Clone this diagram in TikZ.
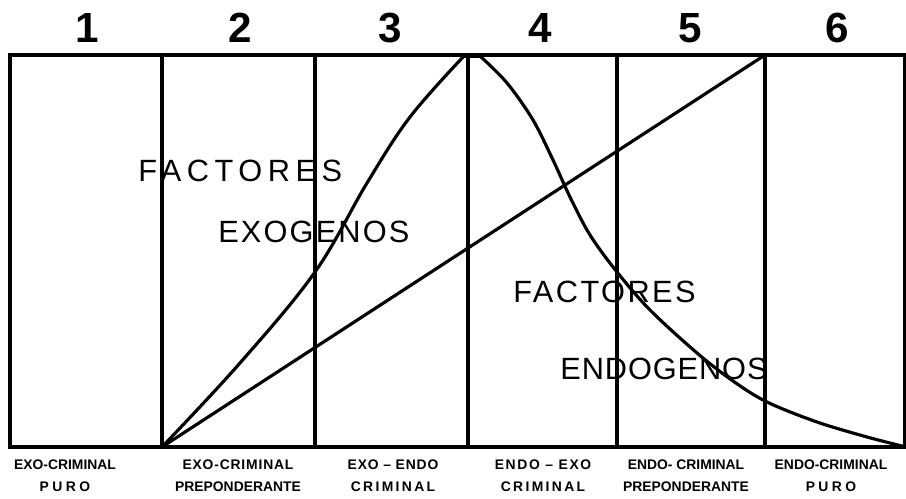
\documentclass[tikz,border=0pt]{standalone}
\usepackage{fontspec}
\setmainfont{Liberation Sans}
\usetikzlibrary{positioning}
\newcommand{\spaced}[2]{{\addfontfeature{LetterSpace=#1}#2}}
\tikzset{frame/.style={line width=2.3pt}, divider/.style={line width=1.8pt}, curve/.style={line width=1.8pt,line join=round}, num/.style={font=\bfseries\fontsize{24}{24}\selectfont,inner sep=0pt}, factor/.style={font=\fontsize{17.5}{18}\selectfont,anchor=base west,inner sep=0pt}, tag/.style={font=\bfseries\fontsize{7.9}{12.5}\selectfont,align=center,anchor=north,inner sep=0pt}}

\begin{document}
\begin{tikzpicture}[x=0.02cm,y=-0.02cm]
\useasboundingbox (0,0) rectangle (906,499);
% column numbers
\foreach \n/\x in {1/87,2/240,3/390,4/540,5/690,6/837} \node[num](n\n) at (\x,28){\n};
% frame and columns
\draw[frame](10,55) rectangle (905,447);
\foreach \x in {162,315,468,617,765} \draw[divider](\x,55)--(\x,447);
% curves
\coordinate(origin) at (162,447);\coordinate(apex) at (765,55);
\draw[curve](origin)--(apex);
\draw[curve] plot[smooth,tension=0.6] coordinates {(162,447)(240,363)(315,272)(367,183)(410,117)(464,56)};
\draw[curve](464,56)--(480,56);
\draw[curve] plot[smooth,tension=0.55] coordinates {(480,56)(507,83)(533,120)(553,160)(570,197)(590,235)(617,272)(650,310)(697,353)(733,381)(767,402)(817,422)(867,437)(906,447)};
% factors
\node[factor](exo1) at (138,182){\spaced{18}{FACTORES}};
\node[factor](exo2) at (218,243){\spaced{7}{EXOGENOS}};
\node[factor](endo1) at (513,303){\spaced{8}{FACTORES}};
\node[factor](endo2) at (560,380){\spaced{3}{ENDOGENOS}};
% class labels
\node[tag](c1) at (65,459){EXO-CRIMINAL\\\spaced{25}{PURO}};
\node[tag](c2) at (238,459){\spaced{6}{EXO-CRIMINAL}\\PREPONDERANTE};
\node[tag](c3) at (393,459){\spaced{6}{EXO -- ENDO}\\\spaced{17}{CRIMINAL}};
\node[tag](c4) at (543,459){\spaced{12}{ENDO -- EXO}\\\spaced{17}{CRIMINAL}};
\node[tag](c5) at (686,459){ENDO- CRIMINAL\\PREPONDERANTE};
\node[tag](c6) at (831,459){ENDO-CRIMINAL\\\spaced{25}{PURO}};
\end{tikzpicture}
\end{document}
